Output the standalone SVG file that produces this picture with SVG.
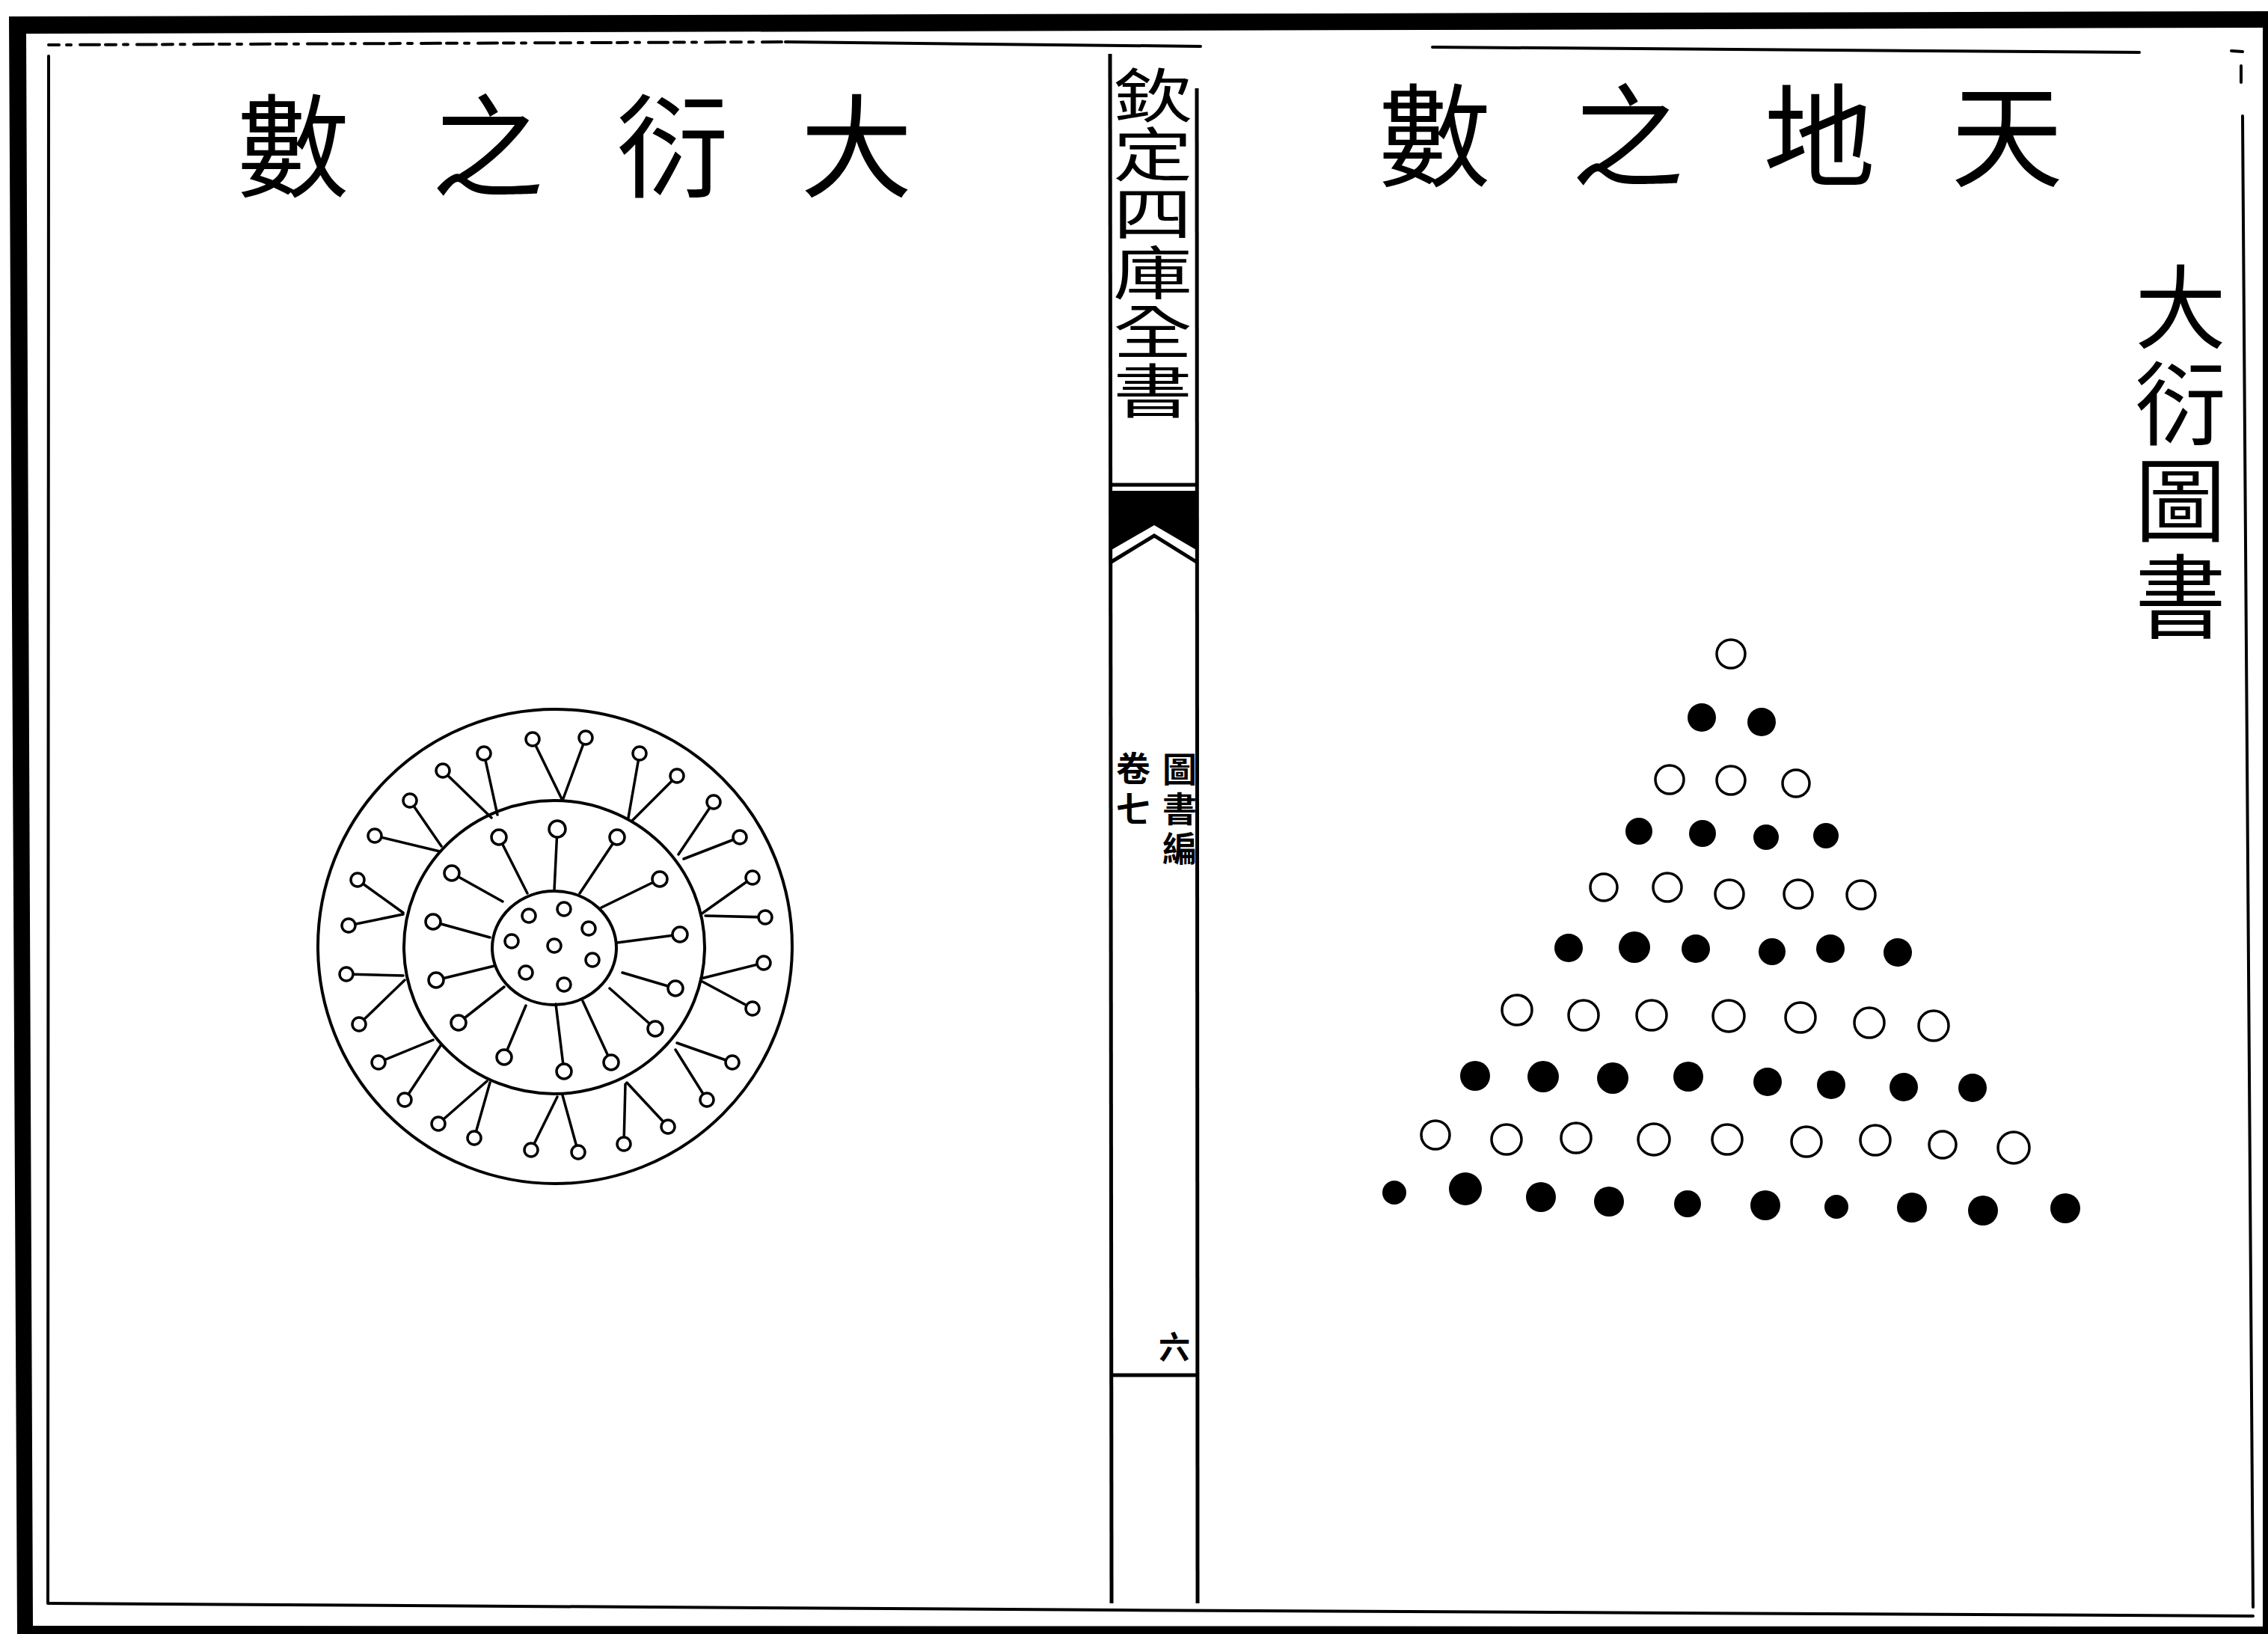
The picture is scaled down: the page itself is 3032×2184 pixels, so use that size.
<svg xmlns="http://www.w3.org/2000/svg" width="3032" height="2184" viewBox="0 0 3032 2184">
<style>
.frame{fill:none;stroke:#000;stroke-width:4;stroke-linecap:round}
.spine{fill:none;stroke:#000;stroke-width:5}
.ring{fill:none;stroke:#000;stroke-width:4}
.spk{stroke:#000;stroke-width:3.5;stroke-linecap:round}
.sc{fill:#fff;stroke:#000;stroke-width:3.5}
.wd{fill:#fff;stroke:#000;stroke-width:3.5}
.bd{fill:#000}
.t{font-family:'Noto Sans CJK TC','Noto Sans CJK SC',sans-serif;fill:#000;text-anchor:middle;dominant-baseline:central}
.v{font-family:'Noto Sans CJK TC','Noto Sans CJK SC',sans-serif;fill:#000;writing-mode:vertical-rl;text-anchor:start}
</style>
<rect width="3032" height="2184" fill="#fff"/>
<g id="outer-border">
<path fill="#000" fill-rule="evenodd" d="M12,22 L3032,15 L3032,2184 L23,2184 Z M35,45 L3025,37 L3025,2174 L44,2173 Z"/>
</g>
<g id="page-frames">
<path class="frame" stroke-dasharray="14 10 6 12 26 8" d="M65,60 L1050,56"/>
<path class="frame" d="M1050,56 L1605,62"/>
<path class="frame" d="M65,75 L64,2143"/>
<path class="frame" d="M65,2143 L1500,2152 L3012,2160"/>
<path class="frame" d="M1915,63 L2860,70"/>
<path class="frame" d="M2983,68 L2998,69 M2996,88 L2996,110"/>
<path class="frame" d="M2998,155 L3012,2148"/>
</g>
<g id="spine">
<path class="spine" d="M1484,72 L1486,2143"/>
<path class="spine" d="M1600,118 L1601,2143"/>
<path class="spine" d="M1484,648 L1601,648"/>
<path class="spine" d="M1484,1838 L1601,1838"/>
<path fill="#000" d="M1484,656 L1601,656 L1601,736 L1543,702 L1484,736 Z"/>
<path class="spine" d="M1484,752 L1543,716 L1601,752"/>
<g transform="translate(1541,0) scale(1.36,1)">
<text class="v" x="0" y="88" font-size="78" letter-spacing="1">欽定四庫全書</text>
</g>
<text class="v" x="1577" y="1005" font-size="46" font-weight="700" letter-spacing="7">圖書編</text>
<text class="v" x="1515" y="1004" font-size="46" font-weight="700" letter-spacing="8">卷七</text>
<text class="t" x="1570" y="1797" font-size="42" font-weight="700">六</text>
</g>
<g id="title-left">
<text class="t" x="392" y="186" font-size="150">數</text>
<text class="t" x="652" y="186" font-size="150">之</text>
<text class="t" x="899" y="186" font-size="150">衍</text>
<text class="t" x="1145" y="186" font-size="150">大</text>
</g>
<g id="title-right">
<text class="t" x="1918" y="172" font-size="150">數</text>
<text class="t" x="2176" y="172" font-size="150">之</text>
<text class="t" x="2432" y="172" font-size="150">地</text>
<text class="t" x="2683" y="172" font-size="150">天</text>
</g>
<g id="title-vertical">
<text class="v" x="2915" y="349" font-size="122" letter-spacing="7">大衍圖書</text>
</g>
<g id="dayan-circle" transform="translate(0,-7)">
<circle class="ring" cx="742" cy="1272" r="317"/>
<ellipse class="ring" cx="741" cy="1273" rx="201" ry="196"/>
<ellipse class="ring" cx="741" cy="1274" rx="83" ry="76"/>
<g id="outer-spokes">
<path class="spk" d="M752,1077L712,995M752,1077L783,993M840,1100L855,1014M846,1103L905,1044M907,1149L954,1079M914,1155L989,1126M937,1229L1006,1180M943,1231L1023,1233M937,1315L1021,1294M939,1319L1006,1355M905,1401L979,1427M903,1410L945,1477M838,1454L893,1513M836,1456L834,1536M752,1471L773,1547M745,1473L710,1544M655,1454L634,1528M651,1452L586,1509M590,1403L541,1477M579,1397L506,1427M541,1317L480,1376M539,1311L463,1309M539,1229L466,1244M539,1227L478,1183M588,1145L501,1124M590,1138L548,1077M657,1100L592,1037M665,1096L647,1014"/>
<g>
<circle class="sc" cx="712" cy="995" r="9"/><circle class="sc" cx="783" cy="993" r="9"/><circle class="sc" cx="855" cy="1014" r="9"/><circle class="sc" cx="905" cy="1044" r="9"/><circle class="sc" cx="954" cy="1079" r="9"/><circle class="sc" cx="989" cy="1126" r="9"/><circle class="sc" cx="1006" cy="1180" r="9"/><circle class="sc" cx="1023" cy="1233" r="9"/><circle class="sc" cx="1021" cy="1294" r="9"/><circle class="sc" cx="1006" cy="1355" r="9"/><circle class="sc" cx="979" cy="1427" r="9"/><circle class="sc" cx="945" cy="1477" r="9"/><circle class="sc" cx="893" cy="1513" r="9"/><circle class="sc" cx="834" cy="1536" r="9"/><circle class="sc" cx="773" cy="1547" r="9"/><circle class="sc" cx="710" cy="1544" r="9"/><circle class="sc" cx="634" cy="1528" r="9"/><circle class="sc" cx="586" cy="1509" r="9"/><circle class="sc" cx="541" cy="1477" r="9"/><circle class="sc" cx="506" cy="1427" r="9"/><circle class="sc" cx="480" cy="1376" r="9"/><circle class="sc" cx="463" cy="1309" r="9"/><circle class="sc" cx="466" cy="1244" r="9"/><circle class="sc" cx="478" cy="1183" r="9"/><circle class="sc" cx="501" cy="1124" r="9"/><circle class="sc" cx="548" cy="1077" r="9"/><circle class="sc" cx="592" cy="1037" r="9"/><circle class="sc" cx="647" cy="1014" r="9"/>
</g>
</g>
<g id="middle-spokes">
<path class="spk" d="M741,1197L745,1115M775,1201L825,1126M804,1220L882,1182M825,1267L909,1256M832,1307L903,1328M815,1328L876,1382M779,1345L817,1427M743,1349L754,1439M703,1351L674,1420M674,1326L613,1374M661,1298L583,1317M655,1260L579,1239M672,1212L604,1174M705,1201L667,1126"/>
<g>
<circle class="sc" cx="745" cy="1115" r="11"/><circle class="sc" cx="825" cy="1126" r="10"/><circle class="sc" cx="882" cy="1182" r="10"/><circle class="sc" cx="909" cy="1256" r="10"/><circle class="sc" cx="903" cy="1328" r="10"/><circle class="sc" cx="876" cy="1382" r="10"/><circle class="sc" cx="817" cy="1427" r="10"/><circle class="sc" cx="754" cy="1439" r="10"/><circle class="sc" cx="674" cy="1420" r="10"/><circle class="sc" cx="613" cy="1374" r="10"/><circle class="sc" cx="583" cy="1317" r="10"/><circle class="sc" cx="579" cy="1239" r="10"/><circle class="sc" cx="604" cy="1174" r="10"/><circle class="sc" cx="667" cy="1126" r="10"/>
</g>
</g>
<g id="inner-dots">
<circle class="sc" cx="707" cy="1231" r="9"/><circle class="sc" cx="754" cy="1222" r="9"/><circle class="sc" cx="787" cy="1248" r="9"/><circle class="sc" cx="684" cy="1265" r="9"/><circle class="sc" cx="741" cy="1271" r="9"/><circle class="sc" cx="792" cy="1290" r="9"/><circle class="sc" cx="703" cy="1307" r="9"/><circle class="sc" cx="754" cy="1323" r="9"/>
</g>
</g>
<g id="tiandi-triangle">
<g id="row1"><circle class="wd" cx="2314" cy="874" r="19"/></g>
<g id="row2"><circle class="bd" cx="2275" cy="959" r="19"/><circle class="bd" cx="2355" cy="965" r="19"/></g>
<g id="row3"><circle class="wd" cx="2232" cy="1042" r="19"/><circle class="wd" cx="2314" cy="1043" r="19"/><circle class="wd" cx="2401" cy="1047" r="18"/></g>
<g id="row4"><circle class="bd" cx="2191" cy="1111" r="18"/><circle class="bd" cx="2276" cy="1114" r="18"/><circle class="bd" cx="2361" cy="1119" r="17"/><circle class="bd" cx="2441" cy="1117" r="17"/></g>
<g id="row5"><circle class="wd" cx="2144" cy="1186" r="18"/><circle class="wd" cx="2229" cy="1186" r="19"/><circle class="wd" cx="2312" cy="1195" r="19"/><circle class="wd" cx="2404" cy="1195" r="19"/><circle class="wd" cx="2488" cy="1196" r="19"/></g>
<g id="row6"><circle class="bd" cx="2097" cy="1267" r="19"/><circle class="bd" cx="2185" cy="1266" r="21"/><circle class="bd" cx="2267" cy="1268" r="19"/><circle class="bd" cx="2369" cy="1272" r="18"/><circle class="bd" cx="2447" cy="1268" r="19"/><circle class="bd" cx="2537" cy="1273" r="19"/></g>
<g id="row7"><circle class="wd" cx="2028" cy="1350" r="20"/><circle class="wd" cx="2117" cy="1357" r="20"/><circle class="wd" cx="2208" cy="1357" r="20"/><circle class="wd" cx="2311" cy="1358" r="21"/><circle class="wd" cx="2407" cy="1360" r="20"/><circle class="wd" cx="2499" cy="1367" r="20"/><circle class="wd" cx="2585" cy="1371" r="20"/></g>
<g id="row8"><circle class="bd" cx="1972" cy="1438" r="20"/><circle class="bd" cx="2063" cy="1439" r="21"/><circle class="bd" cx="2156" cy="1441" r="21"/><circle class="bd" cx="2257" cy="1439" r="20"/><circle class="bd" cx="2363" cy="1446" r="19"/><circle class="bd" cx="2448" cy="1450" r="19"/><circle class="bd" cx="2545" cy="1453" r="19"/><circle class="bd" cx="2637" cy="1454" r="19"/></g>
<g id="row9"><circle class="wd" cx="1919" cy="1517" r="19"/><circle class="wd" cx="2014" cy="1523" r="20"/><circle class="wd" cx="2107" cy="1521" r="20"/><circle class="wd" cx="2211" cy="1523" r="21"/><circle class="wd" cx="2309" cy="1523" r="20"/><circle class="wd" cx="2415" cy="1526" r="20"/><circle class="wd" cx="2507" cy="1524" r="20"/><circle class="wd" cx="2597" cy="1530" r="18"/><circle class="wd" cx="2692" cy="1534" r="21"/></g>
<g id="row10"><circle class="bd" cx="1864" cy="1594" r="16"/><circle class="bd" cx="1959" cy="1589" r="22"/><circle class="bd" cx="2060" cy="1600" r="20"/><circle class="bd" cx="2151" cy="1606" r="20"/><circle class="bd" cx="2256" cy="1609" r="18"/><circle class="bd" cx="2360" cy="1611" r="20"/><circle class="bd" cx="2455" cy="1613" r="16"/><circle class="bd" cx="2556" cy="1614" r="20"/><circle class="bd" cx="2651" cy="1618" r="20"/><circle class="bd" cx="2761" cy="1615" r="20"/></g>
</g>
</svg>
